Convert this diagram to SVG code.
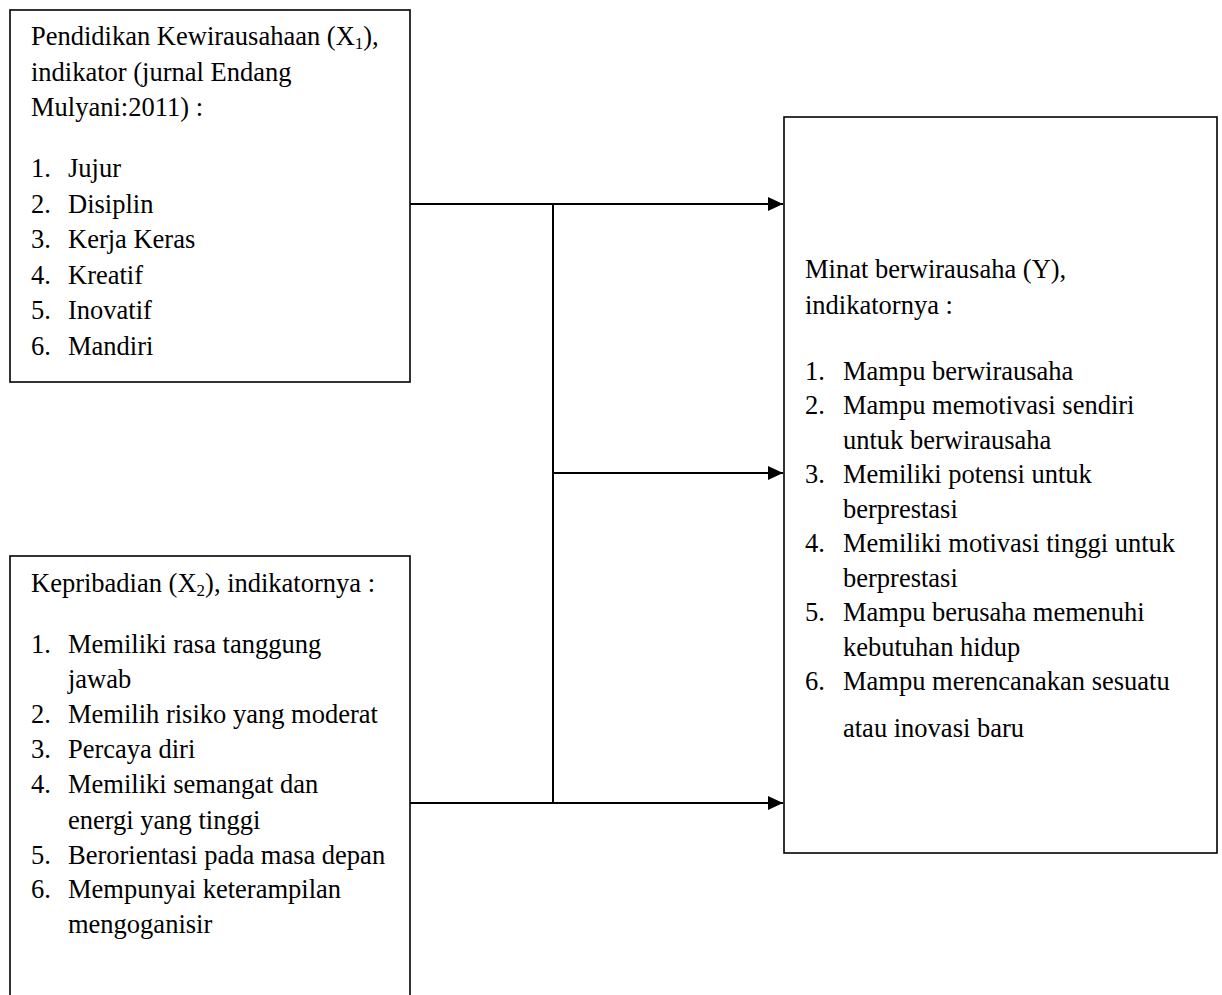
<svg xmlns="http://www.w3.org/2000/svg" width="1222" height="995" viewBox="0 0 1222 995">
<defs>
<style>
.box{fill:#fff;stroke:#000;stroke-width:1.6}
.t{font-family:"Liberation Serif","Times New Roman",serif;font-size:26.5px;fill:#000}
.sub{font-size:17px}
.c{fill:none;stroke:#000;stroke-width:2}
</style>
<marker id="ah" markerUnits="userSpaceOnUse" markerWidth="16" markerHeight="14" refX="15" refY="7" orient="auto">
<path d="M0,0 L15,7 L0,14 z" fill="#000"/>
</marker>
</defs>
<rect width="1222" height="995" fill="#fff"/>
<g id="connectors">
<path class="c" d="M410,204 H783" marker-end="url(#ah)"/>
<path class="c" d="M553,204 V803"/>
<path class="c" d="M553,473 H783" marker-end="url(#ah)"/>
<path class="c" d="M410,803 H783" marker-end="url(#ah)"/>
</g>
<g id="node-x1">
<rect class="box" x="10" y="10" width="400" height="372"/>
<text class="t" x="31" y="45">Pendidikan Kewirausahaan (X<tspan class="sub" dy="4">1</tspan><tspan dy="-4">),</tspan></text>
<text class="t" x="31" y="80.5">indikator (jurnal Endang</text>
<text class="t" x="31" y="116">Mulyani:2011) :</text>
<text class="t" x="31" y="177">1.</text><text class="t" x="68" y="177">Jujur</text>
<text class="t" x="31" y="212.5">2.</text><text class="t" x="68" y="212.5">Disiplin</text>
<text class="t" x="31" y="248">3.</text><text class="t" x="68" y="248">Kerja Keras</text>
<text class="t" x="31" y="283.5">4.</text><text class="t" x="68" y="283.5">Kreatif</text>
<text class="t" x="31" y="319">5.</text><text class="t" x="68" y="319">Inovatif</text>
<text class="t" x="31" y="355">6.</text><text class="t" x="68" y="355">Mandiri</text>
</g>
<g id="node-x2">
<rect class="box" x="10" y="556" width="400" height="460"/>
<text class="t" x="31" y="592">Kepribadian (X<tspan class="sub" dy="4">2</tspan><tspan dy="-4">), indikatornya :</tspan></text>
<text class="t" x="31" y="653">1.</text><text class="t" x="68" y="653">Memiliki rasa tanggung</text>
<text class="t" x="68" y="688">jawab</text>
<text class="t" x="31" y="723">2.</text><text class="t" x="68" y="723">Memilih risiko yang moderat</text>
<text class="t" x="31" y="758">3.</text><text class="t" x="68" y="758">Percaya diri</text>
<text class="t" x="31" y="793">4.</text><text class="t" x="68" y="793">Memiliki semangat dan</text>
<text class="t" x="68" y="829">energi yang tinggi</text>
<text class="t" x="31" y="864">5.</text><text class="t" x="68" y="864">Berorientasi pada masa depan</text>
<text class="t" x="31" y="898">6.</text><text class="t" x="68" y="898">Mempunyai keterampilan</text>
<text class="t" x="68" y="933">mengoganisir</text>
</g>
<g id="node-y">
<rect class="box" x="784" y="117" width="433" height="736"/>
<text class="t" x="805" y="278">Minat berwirausaha (Y),</text>
<text class="t" x="805" y="314">indikatornya :</text>
<text class="t" x="805" y="380">1.</text><text class="t" x="843" y="380">Mampu berwirausaha</text>
<text class="t" x="805" y="414">2.</text><text class="t" x="843" y="414">Mampu memotivasi sendiri</text>
<text class="t" x="843" y="449">untuk berwirausaha</text>
<text class="t" x="805" y="483">3.</text><text class="t" x="843" y="483">Memiliki potensi untuk</text>
<text class="t" x="843" y="518">berprestasi</text>
<text class="t" x="805" y="552">4.</text><text class="t" x="843" y="552">Memiliki motivasi tinggi untuk</text>
<text class="t" x="843" y="587">berprestasi</text>
<text class="t" x="805" y="621">5.</text><text class="t" x="843" y="621">Mampu berusaha memenuhi</text>
<text class="t" x="843" y="656">kebutuhan hidup</text>
<text class="t" x="805" y="690">6.</text><text class="t" x="843" y="690">Mampu merencanakan sesuatu</text>
<text class="t" x="843" y="737">atau inovasi baru</text>
</g>
</svg>
